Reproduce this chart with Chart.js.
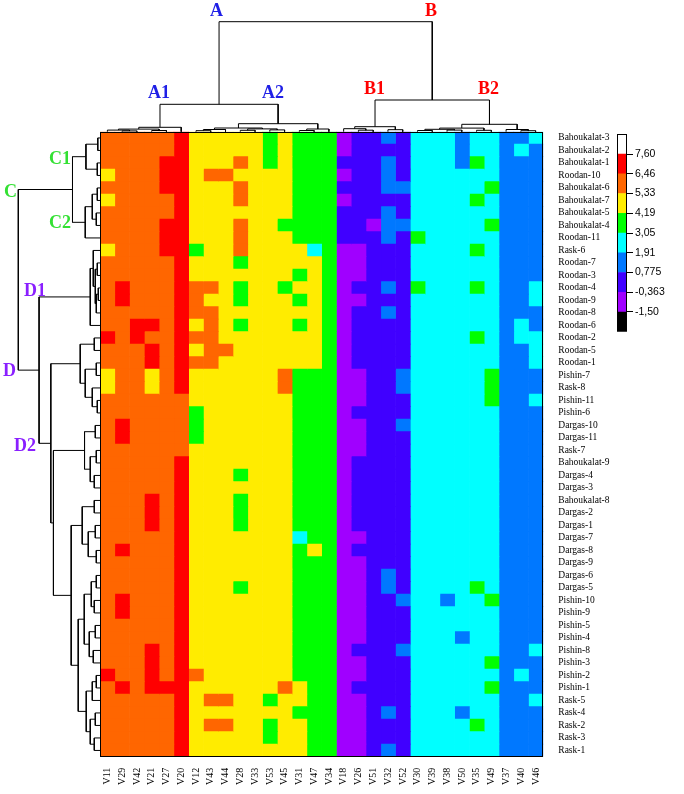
<!DOCTYPE html>
<html>
<head>
<meta charset="utf-8">
<script src="https://cdn.jsdelivr.net/npm/chart.js@4.4.0/dist/chart.umd.min.js"></script>
<style>
  body { margin: 0; background: #fff; }
  #wrap { position: relative; width: 684px; height: 794px; overflow: hidden; }
  canvas { position: absolute; }
  .lab { position: absolute; font-family: 'Liberation Serif', serif; font-weight: bold; font-size: 18px; line-height: 1; }
</style>
</head>
<body>
<div id="wrap">
  <canvas id="heat" width="684" height="794" style="left:0;top:0"></canvas>
  <canvas id="topTree" width="451" height="120" style="left:96px;top:16px"></canvas>
  <canvas id="leftTree" width="92" height="636" style="left:12px;top:126px"></canvas>
  <canvas id="scaleBar" width="74" height="214" style="left:610px;top:126px"></canvas>

  <div class="lab" style="left:210px;top:1px;color:#1f1fe6">A</div>
  <div class="lab" style="left:425px;top:1px;color:#ff0000">B</div>
  <div class="lab" style="left:148px;top:83px;color:#1f1fe6">A1</div>
  <div class="lab" style="left:262px;top:83px;color:#1f1fe6">A2</div>
  <div class="lab" style="left:364px;top:79px;color:#ff0000">B1</div>
  <div class="lab" style="left:478px;top:79px;color:#ff0000">B2</div>
  <div class="lab" style="left:49px;top:149px;color:#33e033">C1</div>
  <div class="lab" style="left:4px;top:182px;color:#33e033">C</div>
  <div class="lab" style="left:49px;top:213px;color:#33e033">C2</div>
  <div class="lab" style="left:24px;top:281px;color:#8a1fff">D1</div>
  <div class="lab" style="left:3px;top:361px;color:#8a1fff">D</div>
  <div class="lab" style="left:14px;top:436px;color:#8a1fff">D2</div>
</div>

<script>
// columns (variables), in dendrogram order
const colNames = ['V11','V29','V42','V21','V27','V20','V12','V43','V44','V28','V33','V53','V45','V31','V47','V34',
  'V18','V26','V51','V32','V52','V30','V39','V38','V50','V35','V49','V37','V40','V46'];

// rows (samples), top to bottom
const rowNames = ['Bahoukalat-3','Bahoukalat-2','Bahoukalat-1','Roodan-10','Bahoukalat-6','Bahoukalat-7',
  'Bahoukalat-5','Bahoukalat-4','Roodan-11','Rask-6','Roodan-7','Roodan-3','Roodan-4','Roodan-9','Roodan-8',
  'Roodan-6','Roodan-2','Roodan-5','Roodan-1','Pishin-7','Rask-8','Pishin-11','Pishin-6','Dargas-10','Dargas-11',
  'Rask-7','Bahoukalat-9','Dargas-4','Dargas-3','Bahoukalat-8','Dargas-2','Dargas-1','Dargas-7','Dargas-8',
  'Dargas-9','Dargas-6','Dargas-5','Pishin-10','Pishin-9','Pishin-5','Pishin-4','Pishin-8','Pishin-3','Pishin-2',
  'Pishin-1','Rask-5','Rask-4','Rask-2','Rask-3','Rask-1'];

// colour class of each cell, one string per row, one letter per column
// P purple, B blue, L light blue, C cyan, G green, Y yellow, O orange, R red
const cellCodes = [
  'OOOOORYYYYYGYGGGPBBLBCCCLCCLLC',
  'OOOOORYYYYYGYGGGPBBBBCCCLCCLCL',
  'OOOORRYYYOYGYGGGBBBLBCCCLGCLLL',
  'YOOORRYOOYYYYGGGPBBLBCCCCCCLLL',
  'OOOORRYYYOYYYGGGBBBLLCCCCCGLLL',
  'YOOOORYYYOYYYGGGPBBBBCCCCGCLLL',
  'OOOOORYYYYYYYGGGBBBLBCCCCCCLLL',
  'OOOORRYYYOYYGGGGBBPLLCCCCCGLLL',
  'OOOORRYYYOYYYGGGBBBLBGCCCCCLLL',
  'YOOORRGYYOYYYYCGPPBBBCCCCGCLLL',
  'OOOOORYYYGYYYYYGPPBBBCCCCCCLLL',
  'OOOOORYYYYYYYGYGPPBBBCCCCCCLLL',
  'OROOOROOYGYYGYYGPBBLBGCCCGCLLC',
  'OROOOROYYGYYYGYGPPBBBCCCCCCLLC',
  'OOOOOROOYYYYYYYGPBBLBCCCCCCLLL',
  'OORRORYOYGYYYGYGPBBBBCCCCCCLCL',
  'ROROOROOYYYYYYYGPBBBBCCCCGCLCC',
  'OOORORYOOYYYYYYGPBBBBCCCCCCLLC',
  'OOOROROOYYYYYYYGPBBBBCCCCCCLLC',
  'YOOYORYYYYYYOGGGPPBBLCCCCCGLLL',
  'YOOYORYYYYYYOGGGPPBBLCCCCCGLLL',
  'OOOOOOYYYYYYYGGGPPBBBCCCCCGLLC',
  'OOOOOOGYYYYYYGGGPBBBBCCCCCCLLL',
  'OROOOOGYYYYYYGGGPPBBLCCCCCCLLL',
  'OROOOOGYYYYYYGGGPPBBBCCCCCCLLL',
  'OOOOOOYYYYYYYGGGPPBBBCCCCCCLLL',
  'OOOOORYYYYYYYGGGPBBBBCCCCCCLLL',
  'OOOOORYYYGYYYGGGPBBBBCCCCCCLLL',
  'OOOOORYYYYYYYGGGPBBBBCCCCCCLLL',
  'OOORORYYYGYYYGGGPBBBBCCCCCCLLL',
  'OOORORYYYGYYYGGGPBBBBCCCCCCLLL',
  'OOORORYYYGYYYGGGPBBBBCCCCCCLLL',
  'OOOOORYYYYYYYCGGPPBBBCCCCCCLLL',
  'OROOORYYYYYYYGYGPBBBBCCCCCCLLL',
  'OOOOORYYYYYYYGGGPPBBBCCCCCCLLL',
  'OOOOORYYYYYYYGGGPPBLBCCCCCCLLL',
  'OOOOORYYYGYYYGGGPPBLBCCCCGCLLL',
  'OROOORYYYYYYYGGGPPBBLCCLCCGLLL',
  'OROOORYYYYYYYGGGPPBBBCCCCCCLLL',
  'OOOOORYYYYYYYGGGPPBBBCCCCCCLLL',
  'OOOOORYYYYYYYGGGPPBBBCCCLCCLLL',
  'OOORORYYYYYYYGGGPBBBLCCCCCCLLC',
  'OOORORYYYYYYYGGGPPBBBCCCCCGLLL',
  'ROOROROYYYYYYGGGPPBBBCCCCCCLCL',
  'ORORRRYYYYYYOYGGPBBBBCCCCCGLLL',
  'OOOOORYOOYYGYYGGPPBBBCCCCCCLLC',
  'OOOOORYYYYYYYGGGPPBLBCCCLCCLLL',
  'OOOOORYOOYYGYYGGPPBBBCCCCGCLLL',
  'OOOOORYYYYYGYYGGPPBBBCCCCCCLLL',
  'OOOOORYYYYYYYYGGPPBLBCCCCCCLLL'
];

const levelColors = {
  P: '#a000ff', B: '#4000ff', L: '#0078ff', C: '#00ffff',
  G: '#00ff00', Y: '#ffec00', O: '#ff6600', R: '#ff0000'
};

// colour key, bottom to top, and the values at the boundaries
const keyColors = ['#000000', '#a000ff', '#4000ff', '#0078ff', '#00ffff', '#00ff00', '#ffec00', '#ff6600', '#ff0000', '#ffffff'];
const keyLabels = ['-1,50', '-0,363', '0,775', '1,91', '3,05', '4,19', '5,33', '6,46', '7,60'];

// dendrograms: [height, left, right], leaves are column / row indexes
const colTree = [110,
  [27.4,
    [4.4, [2.6, [1.6, 0, [0.8, 1, 2]], [1.2, 3, 4]], 5],
    [8, [3.7, [2.2, [1, 6, 7], 8], [2.8, [1.4, 9, 10], [1.8, 11, 12]]], [2.7, [1.2, 13, 14], 15]]],
  [31.7,
    [5, [3, 16, [1.5, 17, 18]], [2, 19, 20]],
    [7.4, [3.6, [2.4, [1.2, 21, 22], [1.6, 23, 24]], [1.4, 25, 26]], [2.2, 27, [1, 28, 29]]]]
];

const rowTree = [81.7,
  [27.7,
    [14.3, [2.5, 0, 1], [3, 2, 3]],
    [15, [8, [3, 4, 5], [4, 6, 7]], 8]],
  [61,
    [10, [7, 9, [5, [3, 10, 11], [4, [2, 12, 13], 14]]], 15],
    [49.3,
      [20, [6, 16, 17], [15, [4, 18, 19], [8, 20, [3, 21, 22]]]],
      [46.7,
        [15.7, [5, 23, 24], [10, [4, 25, 26], [6, 27, 28]]],
        [29,
          [18, [6, 29, 30], [12, [5, 31, 32], [4, 33, 34]]],
          [22, [16, [9, [4, 35, 36], [6, 37, 38]], [11, [5, 39, 40], [7, 41, 42]]],
               [14, [8, [4, 43, 44], 45], [10, [5, 46, 47], [6, 48, 49]]]]]]]]
];

Chart.defaults.animation = false;
Chart.defaults.plugins.legend.display = false;
Chart.defaults.plugins.tooltip.enabled = false;
Chart.defaults.color = '#000';

const framePlugin = {
  id: 'frame',
  afterDatasetsDraw(chart) {
    const a = chart.chartArea;
    const ctx = chart.ctx;
    ctx.save();
    ctx.strokeStyle = '#000';
    ctx.lineWidth = 1;
    ctx.strokeRect(Math.round(a.left) + 0.5, Math.round(a.top) + 0.5,
      Math.round(a.right - a.left) - 1, Math.round(a.bottom - a.top) - 1);
    ctx.restore();
  }
};

// heatmap: one floating horizontal bar per cell
const heatSets = colNames.map((c, ci) => ({
  label: c,
  data: rowNames.map(() => [ci, ci + 1]),
  backgroundColor: cellCodes.map(row => levelColors[row[ci]]),
  borderWidth: 0,
  barPercentage: 1,
  categoryPercentage: 1,
  grouped: false
}));

new Chart(document.getElementById('heat'), {
  type: 'bar',
  data: { labels: rowNames, datasets: heatSets },
  options: {
    responsive: false,
    indexAxis: 'y',
    layout: { padding: { left: 100, top: 131.7, right: 0, bottom: 0 } },
    scales: {
      x: {
        type: 'linear', position: 'bottom', min: 0, max: colNames.length,
        afterBuildTicks: axis => { axis.ticks = colNames.map((c, i) => ({ value: i + 0.5 })); },
        afterFit: axis => { axis.height = 37.3; },
        ticks: {
          autoSkip: false, minRotation: 90, maxRotation: 90, padding: 3,
          font: { family: 'Liberation Serif', size: 10 },
          callback: v => colNames[Math.floor(v)]
        },
        grid: { display: false },
        border: { display: false }
      },
      y: {
        position: 'right',
        afterFit: axis => { axis.width = 140.7; },
        ticks: { autoSkip: false, padding: 7, font: { family: 'Liberation Serif', size: 9.5 } },
        grid: { display: false },
        border: { display: false }
      }
    }
  },
  plugins: [framePlugin]
});

// turn a tree into a broken polyline (null point between pieces)
function treeSegments(node, out) {
  if (typeof node === 'number') return [node + 0.5, 0];
  const a = treeSegments(node[1], out);
  const b = treeSegments(node[2], out);
  const h = node[0];
  out.push([a[0], a[1]], [a[0], h], [b[0], h], [b[0], b[1]], null);
  return [(a[0] + b[0]) / 2, h];
}

function treeDataset(points) {
  return {
    data: points,
    showLine: true, borderColor: '#000', borderWidth: 1,
    pointRadius: 0, tension: 0, spanGaps: false, clip: false
  };
}

const colSeg = [];
treeSegments(colTree, colSeg);
new Chart(document.getElementById('topTree'), {
  type: 'scatter',
  data: { datasets: [treeDataset(colSeg.map(p => p ? { x: p[0], y: p[1] } : { x: null, y: null }))] },
  options: {
    responsive: false,
    layout: { padding: { left: 4, right: 4, top: 5, bottom: 4.3 } },
    scales: {
      x: { type: 'linear', min: 0, max: colNames.length, display: false },
      y: { type: 'linear', min: 0, max: 110.7, display: false }
    }
  }
});

const rowSeg = [];
treeSegments(rowTree, rowSeg);
new Chart(document.getElementById('leftTree'), {
  type: 'scatter',
  data: { datasets: [treeDataset(rowSeg.map(p => p ? { x: p[1], y: p[0] } : { x: null, y: null }))] },
  options: {
    responsive: false,
    layout: { padding: { left: 6.3, right: 3.7, top: 5.7, bottom: 5.3 } },
    scales: {
      x: { type: 'linear', min: 0, max: 81.7, reverse: true, display: false },
      y: { type: 'linear', min: 0, max: rowNames.length, reverse: true, display: false }
    }
  }
});

// colour key
new Chart(document.getElementById('scaleBar'), {
  type: 'bar',
  data: {
    labels: [''],
    datasets: keyColors.map((col, i) => ({
      data: [[i, i + 1]], backgroundColor: col, borderWidth: 0,
      barPercentage: 1, categoryPercentage: 1, grouped: false
    }))
  },
  options: {
    responsive: false,
    layout: { padding: { left: 7, right: 0, top: 5.7, bottom: 5.7 } },
    scales: {
      x: { display: false },
      y: {
        position: 'right', min: 0, max: keyColors.length,
        afterBuildTicks: axis => { axis.ticks = keyLabels.map((l, i) => ({ value: i + 1 })); },
        afterFit: axis => { axis.width = 57; },
        ticks: { padding: 2, font: { family: 'Liberation Sans', size: 10.5 }, callback: v => keyLabels[v - 1] },
        grid: { drawOnChartArea: false, drawTicks: true, tickLength: 6, color: '#000' },
        border: { display: false }
      }
    }
  },
  plugins: [framePlugin]
});
</script>
</body>
</html>
